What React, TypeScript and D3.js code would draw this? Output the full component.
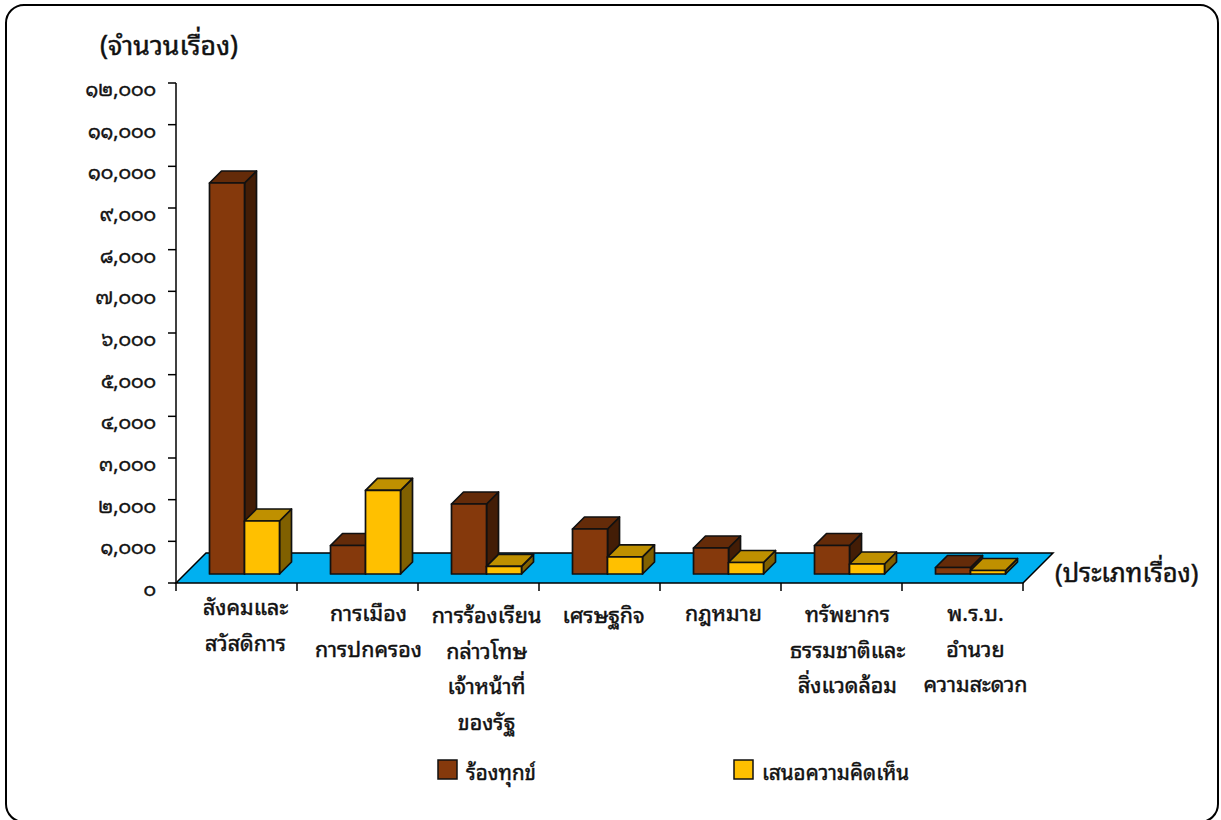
import { useEffect, useRef } from 'react';
import * as d3 from 'd3';

const categories = [
  ['สังคมและ', 'สวัสดิการ'],
  ['การเมือง', 'การปกครอง'],
  ['การร้องเรียน', 'กล่าวโทษ', 'เจ้าหน้าที่', 'ของรัฐ'],
  ['เศรษฐกิจ'],
  ['กฎหมาย'],
  ['ทรัพยากร', 'ธรรมชาติและ', 'สิ่งแวดล้อม'],
  ['พ.ร.บ.', 'อำนวย', 'ความสะดวก'],
];
const complaints = [9384, 684, 1680, 1080, 624, 684, 156];
const opinions = [1272, 2006, 182, 410, 276, 240, 84];
const seriesNames = ['ร้องทุกข์', 'เสนอความคิดเห็น'];
const yTicks = d3.range(0, 13000, 1000);

// hand placed label nudges, the source text boxes are not centred on the bands
const labelDx = [0, 2, -1, -5, -6, -3, 4];
const labelDy = [-6, 0, 2, 2, 0, 1, 0];

const thaiDigits = '๐๑๒๓๔๕๖๗๘๙';
const toThai = (v: number) =>
  d3.format(',')(v).replace(/\d/g, (c) => thaiDigits[+c]);

const FONT = '"Noto Sans Thai Looped", "Noto Sans", sans-serif';
const INK = '#111';
const brown = { front: '#85390c', top: '#642b09', side: '#431d06' };
const gold = { front: '#ffc000', top: '#bf9000', side: '#806000' };

export default function App() {
  const svgRef = useRef<SVGSVGElement>(null);

  useEffect(() => {
    if (!svgRef.current) return;
    const svg = d3.select(svgRef.current);
    svg.selectAll('*').remove();

    const addText = (tx: number, ty: number, size: number, str: string, anchor = 'start') =>
      svg.append('text')
        .attr('x', tx).attr('y', ty)
        .attr('text-anchor', anchor)
        .attr('font-family', FONT).attr('font-size', size).attr('font-weight', 400)
        .attr('fill', INK).attr('stroke', INK).attr('stroke-width', 0.45)
        .text(str);

    // frame
    svg.append('rect')
      .attr('x', 6).attr('y', 5)
      .attr('width', 1212).attr('height', 817)
      .attr('rx', 18).attr('fill', '#fff')
      .attr('stroke', '#000').attr('stroke-width', 2);

    const x = d3.scaleBand<number>()
      .domain(categories.map((_, i) => i))
      .range([176, 1023]);
    const y = d3.scaleLinear().domain([0, 12000]).range([583, 83]);
    const depth = 12;
    const floorDepth = 30;
    const barW = 35;
    const base = y(0) - 9;

    // floor
    svg.append('path')
      .attr('d', `M176,${y(0)}L${176 + floorDepth},${y(0) - floorDepth}L${1023 + floorDepth},${y(0) - floorDepth}L1023,${y(0)}Z`)
      .attr('fill', '#00b0f0').attr('stroke', '#000').attr('stroke-width', 1.5);

    const box = (gx: number, value: number, c: typeof brown) => {
      const top = y(value) - 9;
      const g = svg.append('g').attr('stroke', INK).attr('stroke-width', 1.7).attr('stroke-linejoin', 'round');
      g.append('path').attr('fill', c.side)
        .attr('d', `M${gx + barW},${top}l${depth},${-depth}V${base - depth}l${-depth},${depth}Z`);
      g.append('path').attr('fill', c.top)
        .attr('d', `M${gx},${top}l${depth},${-depth}h${barW}l${-depth},${depth}Z`);
      g.append('rect').attr('x', gx).attr('y', top).attr('width', barW).attr('height', base - top).attr('fill', c.front);
    };

    categories.forEach((_, i) => {
      const gx = x(i)! + 33.5;
      box(gx, complaints[i], brown);
      box(gx + barW, opinions[i], gold);
    });

    // y axis
    svg.append('line').attr('x1', 176).attr('x2', 176).attr('y1', y(12000)).attr('y2', y(0)).attr('stroke', '#000').attr('stroke-width', 1.5);
    yTicks.forEach((t) => {
      svg.append('line').attr('x1', 168).attr('x2', 176).attr('y1', y(t)).attr('y2', y(t)).attr('stroke', '#000').attr('stroke-width', 1.5);
      addText(156, y(t) + 13, 19.3, toThai(t), 'end');
    });

    // x axis ticks
    d3.range(0, 8).forEach((i) => {
      const tx = 176 + i * x.bandwidth();
      svg.append('line').attr('x1', tx).attr('x2', tx).attr('y1', y(0)).attr('y2', y(0) + 8).attr('stroke', '#000').attr('stroke-width', 1.5);
    });

    // category labels
    categories.forEach((lines, i) => {
      lines.forEach((line, j) => {
        addText(x(i)! + x.bandwidth() / 2 + 9 + labelDx[i], 621 + labelDy[i] + j * 35.5, 21.5, line, 'middle');
      });
    });

    // axis titles
    addText(100, 55, 26.7, '(จำนวนเรื่อง)');
    addText(1055, 582, 25.5, '(ประเภทเรื่อง)');

    // legend
    [[438, brown.front, 0], [734, gold.front, 1]].forEach(([lx, color, idx]) => {
      svg.append('rect').attr('x', lx as number).attr('y', 760).attr('width', 19).attr('height', 19)
        .attr('fill', color as string).attr('stroke', INK).attr('stroke-width', 1.5);
      addText((lx as number) + 28, 780, 20.6, seriesNames[idx as number]);
    });
  }, []);

  return (
    <svg
      ref={svgRef}
      width={1221}
      height={820}
      style={{ position: 'absolute', left: 0, top: 0, display: 'block' }}
    />
  );
}
